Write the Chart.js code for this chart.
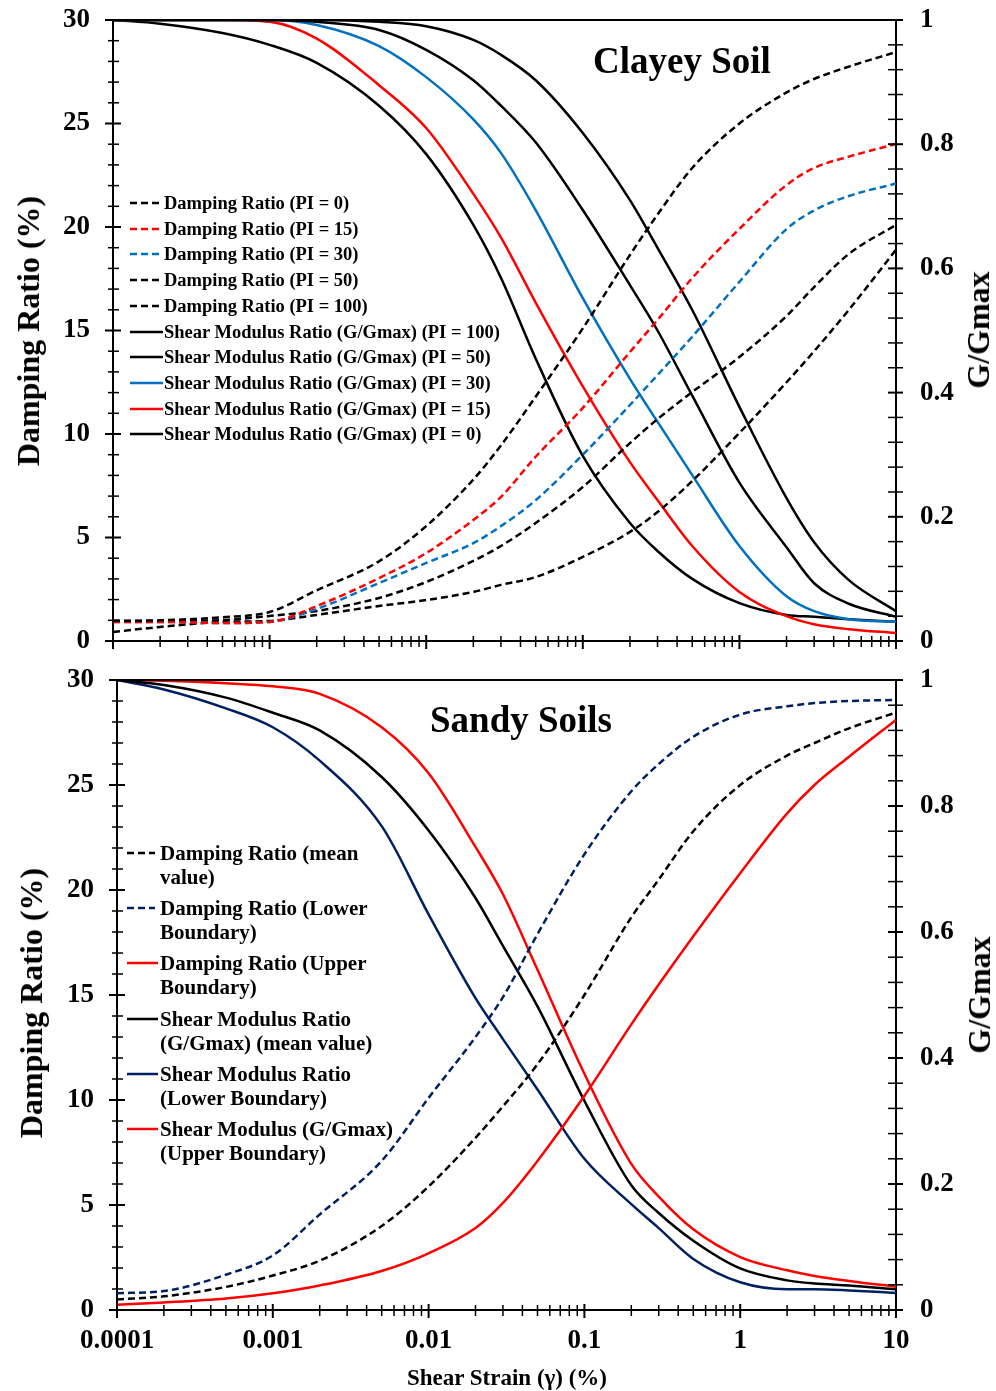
<!DOCTYPE html>
<html><head><meta charset="utf-8">
<script src="https://cdn.jsdelivr.net/npm/chart.js@4.4.1/dist/chart.umd.min.js"></script>
<style>
html,body{margin:0;padding:0;background:#fff;}
#wrap{position:relative;width:996px;height:1391px;overflow:hidden;background:#fff;font-family:'Liberation Serif','Times New Roman',serif;font-weight:bold;color:#000;}
canvas{position:absolute;left:0;}
.t{position:absolute;white-space:nowrap;line-height:1;}
.rot{transform:translate(-50%,-50%) rotate(-90deg);}
.ctr{transform:translate(-50%,-50%);}
</style></head>
<body><div id="wrap">
<canvas id="c1" width="996" height="660" style="top:0"></canvas>
<canvas id="c2" width="996" height="731" style="top:660px"></canvas>
<div class="t rot" style="left:28px;top:331px;font-size:32px">Damping Ratio (%)</div>
<div class="t rot" style="left:31px;top:1003px;font-size:32px">Damping Ratio (%)</div>
<div class="t rot" style="left:978px;top:330px;font-size:32px">G/Gmax</div>
<div class="t rot" style="left:979px;top:995px;font-size:32px">G/Gmax</div>
<div class="t ctr" style="left:682px;top:60px;font-size:37px">Clayey Soil</div>
<div class="t ctr" style="left:521px;top:719px;font-size:37px">Sandy Soils</div>
<div class="t ctr" style="left:507px;top:1377px;font-size:23px">Shear Strain (γ) (%)</div>
</div>
<script>
// ---------- shared axes ----------
const strain = [0.0001,0.0002,0.0005,0.001,0.002,0.005,0.01,0.02,0.03,0.05,0.1,0.2,0.3,0.5,1,2,3,5,10];
const xTickValues = [0.0001,0.001,0.01,0.1,1,10];
const xTickLabels = ['0.0001','0.001','0.01','0.1','1','10'];
const dampTickValues = [0,5,10,15,20,25,30];
const dampTickLabels = ['0','5','10','15','20','25','30'];
const gTickValues = [0,0.2,0.4,0.6,0.8,1];
const gTickLabels = ['0','0.2','0.4','0.6','0.8','1'];

// ---------- Clayey soil ----------
const clayDamp_PI0   = [0.97,1.0,1.15,1.4,2.45,3.85,5.55,7.8,9.45,11.8,15.1,18.65,20.6,22.85,25.0,26.5,27.15,27.75,28.45];
const clayDamp_PI15  = [0.92,0.92,0.87,0.92,1.69,3.04,4.25,5.85,6.96,8.9,11.26,13.96,15.51,17.54,19.91,22.03,22.85,23.4,24.01];
const clayDamp_PI30  = [0.92,0.92,0.87,0.92,1.55,2.8,3.77,4.73,5.55,6.8,9.0,11.4,12.85,14.7,17.35,19.9,20.8,21.5,22.1];
const clayDamp_PI50  = [0.97,0.97,1.01,1.21,1.45,2.08,2.85,3.87,4.59,5.7,7.44,9.56,10.72,12.03,13.72,15.7,17.1,18.7,20.1];
const clayDamp_PI100 = [0.43,0.68,0.92,0.97,1.26,1.69,1.98,2.37,2.71,3.09,4.06,5.27,6.23,7.73,10.05,12.5,14.0,16.0,18.9];
const clayG_PI100 = [1,1,1,1,1,0.997,0.99,0.968,0.944,0.903,0.818,0.71,0.633,0.533,0.377,0.23,0.159,0.098,0.048];
const clayG_PI50  = [1,1,1,1,0.997,0.984,0.952,0.903,0.862,0.803,0.694,0.573,0.5,0.395,0.255,0.151,0.093,0.06,0.039];
const clayG_PI30  = [1,1,1,1,0.992,0.958,0.908,0.84,0.786,0.694,0.552,0.422,0.353,0.267,0.153,0.072,0.048,0.035,0.031];
const clayG_PI15  = [1,1,1,0.997,0.97,0.895,0.826,0.72,0.65,0.545,0.41,0.288,0.227,0.153,0.079,0.04,0.027,0.019,0.013];
const clayG_PI0   = [1,0.994,0.979,0.96,0.931,0.862,0.784,0.67,0.585,0.455,0.298,0.19,0.145,0.1,0.061,0.042,0.039,0.035,0.031];
const clayLabels = ['Damping Ratio (PI = 0)','Damping Ratio (PI = 15)','Damping Ratio (PI = 30)','Damping Ratio (PI = 50)','Damping Ratio (PI = 100)',
  'Shear Modulus Ratio (G/Gmax) (PI = 100)','Shear Modulus Ratio (G/Gmax) (PI = 50)','Shear Modulus Ratio (G/Gmax) (PI = 30)','Shear Modulus Ratio (G/Gmax) (PI = 15)','Shear Modulus Ratio (G/Gmax) (PI = 0)'];

// ---------- Sandy soils ----------
const sandDamp_mean  = [0.5,0.65,1.1,1.64,2.35,4.0,5.88,8.2,9.7,11.7,15.0,18.7,20.5,22.8,25.0,26.4,27.0,27.7,28.45];
const sandDamp_lower = [0.8,0.9,1.68,2.6,4.55,7.1,10.1,13.0,14.9,17.9,21.7,24.7,26.0,27.3,28.35,28.75,28.9,29.0,29.05];
const sandDamp_upper = [0.25,0.36,0.55,0.8,1.17,1.86,2.7,3.9,5.1,7.1,10.2,13.6,15.5,17.8,20.8,23.65,25.0,26.35,28.1];
const sandG_mean  = [1,0.992,0.972,0.948,0.92,0.846,0.761,0.654,0.578,0.482,0.332,0.198,0.154,0.11,0.066,0.047,0.042,0.039,0.033];
const sandG_lower = [1,0.985,0.955,0.925,0.872,0.768,0.628,0.495,0.43,0.35,0.24,0.168,0.13,0.081,0.044,0.033,0.033,0.031,0.027];
const sandG_upper = [1,0.999,0.995,0.99,0.978,0.925,0.852,0.735,0.66,0.54,0.375,0.232,0.18,0.128,0.084,0.063,0.054,0.046,0.037];
const sandLabels = ['Damping Ratio (mean\nvalue)','Damping Ratio (Lower\nBoundary)','Damping Ratio (Upper\nBoundary)',
  'Shear Modulus Ratio\n(G/Gmax) (mean value)','Shear Modulus Ratio\n(Lower Boundary)','Shear Modulus (G/Gmax)\n(Upper Boundary)'];

// ---------- styles ----------
const BLACK='#000000', RED='#FF0000', BLUE='#0070C0', NAVY='#002060';
const DASH=[7,4];
const FONT="'Liberation Serif','Times New Roman',serif";

function series(label, values, color, dashed, axis){
  return {label, data: strain.map((x,i)=>({x, y: values[i]})), borderColor: color, backgroundColor: color,
    borderWidth: 2.5, borderDash: dashed ? DASH : [], pointRadius: 0, fill: false,
    cubicInterpolationMode: 'monotone', yAxisID: axis};
}

const clayDatasets = [
  series(clayLabels[0], clayDamp_PI0, BLACK, true, 'y'),
  series(clayLabels[1], clayDamp_PI15, RED, true, 'y'),
  series(clayLabels[2], clayDamp_PI30, BLUE, true, 'y'),
  series(clayLabels[3], clayDamp_PI50, BLACK, true, 'y'),
  series(clayLabels[4], clayDamp_PI100, BLACK, true, 'y'),
  series(clayLabels[5], clayG_PI100, BLACK, false, 'y1'),
  series(clayLabels[6], clayG_PI50, BLACK, false, 'y1'),
  series(clayLabels[7], clayG_PI30, BLUE, false, 'y1'),
  series(clayLabels[8], clayG_PI15, RED, false, 'y1'),
  series(clayLabels[9], clayG_PI0, BLACK, false, 'y1')
];
const sandDatasets = [
  series(sandLabels[0], sandDamp_mean, BLACK, true, 'y'),
  series(sandLabels[1], sandDamp_lower, NAVY, true, 'y'),
  series(sandLabels[2], sandDamp_upper, RED, false, 'y'),
  series(sandLabels[3], sandG_mean, BLACK, false, 'y1'),
  series(sandLabels[4], sandG_lower, NAVY, false, 'y1'),
  series(sandLabels[5], sandG_upper, RED, false, 'y1')
];

const axisTicks = {
  id: 'axisTicks',
  afterDraw(chart){
    const {ctx, chartArea: a, scales: s} = chart;
    ctx.save();
    ctx.strokeStyle = '#000';
    const seg = (x1,y1,x2,y2,w)=>{ctx.lineWidth=w;ctx.beginPath();ctx.moveTo(x1,y1);ctx.lineTo(x2,y2);ctx.stroke();};
    seg(a.left-1, a.top, a.right+1, a.top, 2);
    for (let v=0; v<=30; v++){
      const p = s.y.getPixelForValue(v);
      if (v%5===0) seg(a.left-8,p,a.left+8,p,2); else seg(a.left-5,p,a.left+6,p,1.5);
    }
    for (let k=0; k<=25; k++){
      const p = s.y1.getPixelForValue(k*0.04);
      seg(a.right-8,p,a.right+7,p,k%5===0?2:1.5);
    }
    for (let e=-4; e<=1; e++){
      for (let m=1; m<=9; m++){
        const v = m*Math.pow(10,e);
        if (v > 10.0001) break;
        const p = s.x.getPixelForValue(v);
        if (m===1) seg(p,a.bottom-6,p,a.bottom+8,2); else seg(p,a.bottom-5,p,a.bottom+6,1.5);
      }
    }
    ctx.restore();
  }
};

function noPad(sc){ sc.paddingTop = 0; sc.paddingBottom = 0; sc.paddingLeft = 0; sc.paddingRight = 0; }

function makeChart(id, datasets, leftW, xH, showX){
  return new Chart(document.getElementById(id), {
    type: 'line',
    data: {datasets},
    plugins: [axisTicks],
    options: {
      responsive: false, animation: false, devicePixelRatio: 1, events: [],
      layout: {padding: {top: 20, left: 0, right: 0, bottom: 0}},
      plugins: {legend: {display: false}, tooltip: {enabled: false}},
      scales: {
        x: {type: 'logarithmic', min: 0.0001, max: 10,
          afterBuildTicks: sc => { sc.ticks = xTickValues.map(v=>({value: v})); },
          afterFit: sc => { sc.height = xH; noPad(sc); },
          grid: {display: false, drawTicks: false},
          border: {display: true, color: '#000', width: 2},
          ticks: {display: showX, autoSkip: false, maxRotation: 0, padding: 15, color: '#000',
            font: {family: FONT, size: 27, weight: 'bold'},
            callback: (v,i)=>xTickLabels[i]}
        },
        y: {type: 'linear', position: 'left', min: 0, max: 30,
          afterBuildTicks: sc => { sc.ticks = dampTickValues.map(v=>({value: v})); },
          afterFit: sc => { sc.width = leftW; noPad(sc); },
          grid: {display: false, drawTicks: false},
          border: {display: true, color: '#000', width: 2},
          ticks: {autoSkip: false, padding: 23, color: '#000', font: {family: FONT, size: 27, weight: 'bold'},
            callback: (v,i)=>dampTickLabels[i]}
        },
        y1: {type: 'linear', position: 'right', min: 0, max: 1,
          afterBuildTicks: sc => { sc.ticks = gTickValues.map(v=>({value: v})); },
          afterFit: sc => { sc.width = 100; noPad(sc); },
          grid: {display: false, drawTicks: false},
          border: {display: true, color: '#000', width: 2},
          ticks: {autoSkip: false, padding: 24, color: '#000', font: {family: FONT, size: 27, weight: 'bold'},
            callback: (v,i)=>gTickLabels[i]}
        }
      }
    }
  });
}

function fitArea(chart, top, bottom){
  const a = chart.chartArea;
  const p = chart.options.layout.padding;
  const dt = top - a.top, db = a.bottom - bottom;
  if (Math.abs(dt) > 0.5 || Math.abs(db) > 0.5){
    chart.options.layout.padding = {top: Math.max(0, p.top + dt), left: 0, right: 0, bottom: Math.max(0, (p.bottom||0) + db)};
    chart.update();
  }
}

const ch1 = makeChart('c1', clayDatasets, 113, 19, false);
const ch2 = makeChart('c2', sandDatasets, 117, 81, true);
fitArea(ch1, 20, 641);
fitArea(ch2, 20, 650);

function buildLegend(datasets, o){
  const wrap = document.getElementById('wrap');
  datasets.forEach((ds,i)=>{
    const row = document.createElement('div');
    row.style.cssText = `position:absolute;left:${o.x}px;top:${o.y0+i*o.step-o.lh/2}px;font-size:${o.fs}px;line-height:${o.lh}px;white-space:pre;`;
    const dashed = ds.borderDash && ds.borderDash.length;
    const ns = 'http://www.w3.org/2000/svg';
    const svg = document.createElementNS(ns,'svg');
    svg.setAttribute('width', o.sw); svg.setAttribute('height', o.lh);
    svg.style.cssText = 'position:absolute;left:0;top:0';
    const ln = document.createElementNS(ns,'line');
    ln.setAttribute('x1',0); ln.setAttribute('y1',o.lh/2);
    ln.setAttribute('x2', dashed ? o.swd : o.sw); ln.setAttribute('y2',o.lh/2);
    ln.setAttribute('stroke', ds.borderColor); ln.setAttribute('stroke-width', 2.5);
    if (dashed) ln.setAttribute('stroke-dasharray', ds.borderDash.join(','));
    svg.appendChild(ln);
    const sp = document.createElement('span');
    sp.style.cssText = `position:absolute;left:${o.tx}px;top:0;`;
    sp.textContent = ds.label;
    row.appendChild(svg); row.appendChild(sp);
    wrap.appendChild(row);
  });
}
buildLegend(clayDatasets, {x:130, y0:203, step:25.7, fs:18.5, lh:22, sw:33, swd:30, tx:34});
buildLegend(sandDatasets, {x:127, y0:853, step:55.2, fs:21, lh:24, sw:31, swd:28, tx:33});
</script>
</body></html>
